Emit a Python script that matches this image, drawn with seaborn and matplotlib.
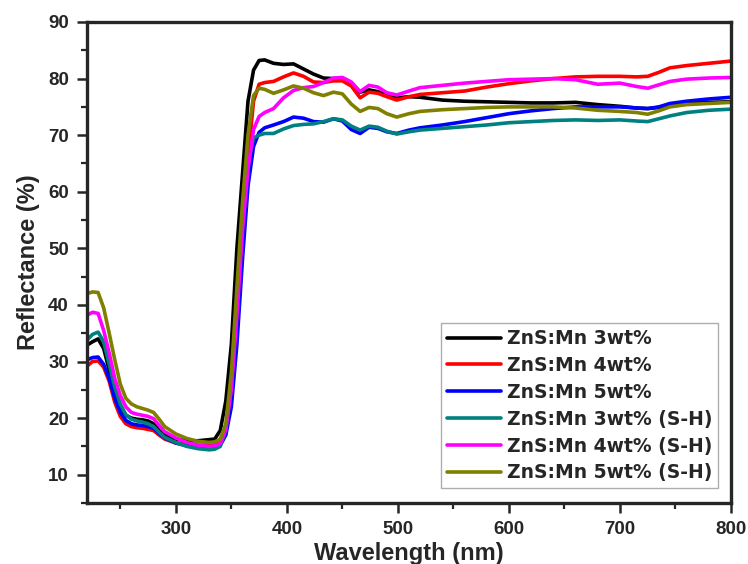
import numpy as np
import pandas as pd
import matplotlib
matplotlib.use("Agg")
import matplotlib.pyplot as plt
from matplotlib.ticker import MultipleLocator
import seaborn as sns

wavelength = [220, 225, 230, 235, 240, 245, 250, 255, 260, 265, 270, 275, 280, 285, 290,
              300, 310, 320, 330, 335, 340, 345, 350, 355, 360, 365, 370, 375, 380,
              388, 397, 406, 415, 424, 433, 442, 450, 458, 466, 474, 482, 490, 499,
              510, 520, 540, 560, 580, 600, 620, 640, 660, 680, 700, 715, 725, 735,
              745, 760, 780, 800]

zns_mn_3 = [32.9, 33.5, 34.0, 32.3, 28.5, 24.5, 22.0, 20.5, 20.0, 19.8, 19.7, 19.5, 19.0, 17.8, 17.0,
            16.3, 16.0, 16.0, 16.2, 16.3, 17.8, 23.0, 33.0, 50.0, 63.0, 76.0, 81.5, 83.2, 83.3,
            82.7, 82.5, 82.6, 81.7, 80.8, 80.1, 80.0, 79.8, 78.8, 77.6, 78.0, 77.7, 77.0, 76.6,
            76.8, 76.7, 76.2, 76.0, 75.9, 75.8, 75.7, 75.7, 75.8, 75.4, 75.1, 74.8, 74.7, 74.9,
            75.3, 75.6, 75.8, 75.9]

zns_mn_4 = [29.2, 30.0, 30.1, 29.0, 26.5, 22.8, 20.3, 19.0, 18.5, 18.3, 18.2, 18.0, 17.8, 17.0, 16.3,
            15.6, 15.3, 15.2, 15.3, 15.4, 15.6, 17.8, 24.0, 37.0, 52.0, 66.0, 76.0, 79.0, 79.3,
            79.5, 80.3, 81.0, 80.4, 79.4, 79.3, 79.6, 79.6, 78.7, 76.6, 77.6, 77.4, 76.8, 76.2,
            76.8, 77.2, 77.5, 77.8, 78.5, 79.1, 79.6, 80.0, 80.3, 80.4, 80.4, 80.3, 80.4, 81.1,
            81.9, 82.3, 82.7, 83.1]

zns_mn_5 = [30.3, 30.7, 30.8, 29.5, 27.0, 23.5, 21.0, 19.6, 19.0, 18.8, 18.7, 18.5, 18.2, 17.3, 16.5,
            15.6, 15.1, 14.9, 14.8, 14.9, 15.2, 17.0, 22.0, 33.0, 48.0, 61.0, 68.0, 70.5, 71.3,
            71.8, 72.4, 73.2, 73.0, 72.4, 72.3, 72.9, 72.5, 71.0, 70.3, 71.4, 71.2, 70.6, 70.3,
            70.9, 71.3, 71.8, 72.4, 73.1, 73.8, 74.3, 74.7, 75.0, 75.0, 75.0, 74.8, 74.7, 75.0,
            75.6, 76.0, 76.4, 76.7]

zns_mn_3_sh = [33.8, 34.8, 35.2, 33.5, 29.5, 25.5, 22.5, 20.6, 19.8, 19.5, 19.3, 19.0, 18.5, 17.5, 16.6,
               15.7, 15.0, 14.6, 14.4, 14.5, 15.0, 18.0, 26.0, 40.0, 55.0, 65.0, 69.5, 70.0, 70.3,
               70.3, 71.1, 71.7, 71.9, 72.0, 72.4, 72.9, 72.7, 71.6, 70.9, 71.6, 71.4, 70.7, 70.2,
               70.6, 70.9, 71.2, 71.5, 71.8, 72.2, 72.4, 72.6, 72.7, 72.6, 72.7, 72.5, 72.4, 72.9,
               73.4, 74.0, 74.4, 74.6]

zns_mn_4_sh = [38.2, 38.7, 38.5, 35.5, 31.5, 27.0, 24.0, 22.0, 21.0, 20.7, 20.5, 20.3, 19.9, 18.7, 17.6,
               16.5, 15.7, 15.2, 15.0, 15.1, 15.5, 18.0, 25.0, 38.0, 53.0, 64.0, 71.0, 73.3, 74.0,
               74.7, 76.6, 77.9, 78.4, 78.6, 79.3, 80.1, 80.2, 79.4, 77.7, 78.8, 78.5, 77.5, 77.1,
               77.8, 78.4, 78.8, 79.2, 79.5, 79.8, 79.9, 80.0, 79.8, 79.0, 79.2, 78.6, 78.3, 78.9,
               79.5, 79.9, 80.1, 80.2]

zns_mn_5_sh = [42.0, 42.3, 42.2, 39.5, 35.0, 30.3, 26.0, 23.5, 22.5, 22.0, 21.7, 21.4, 21.0, 19.8, 18.5,
               17.2, 16.4, 15.9, 15.7, 15.8, 16.3, 19.0, 28.0, 43.0, 58.0, 70.0, 77.0, 78.3, 78.1,
               77.4, 78.0, 78.7, 78.3, 77.5, 77.0, 77.6, 77.3, 75.5, 74.2, 74.9, 74.7, 73.8, 73.2,
               73.8, 74.2, 74.5, 74.7, 74.9, 75.0, 75.0, 75.0, 74.8, 74.4, 74.2, 74.0, 73.7, 74.3,
               75.0, 75.4, 75.6, 75.8]

labels = ["ZnS:Mn 3wt%", "ZnS:Mn 4wt%", "ZnS:Mn 5wt%",
          "ZnS:Mn 3wt% (S-H)", "ZnS:Mn 4wt% (S-H)", "ZnS:Mn 5wt% (S-H)"]
colors = ["#000000", "#ff0000", "#0000ff", "#008080", "#ff00ff", "#808000"]
series = [zns_mn_3, zns_mn_4, zns_mn_5, zns_mn_3_sh, zns_mn_4_sh, zns_mn_5_sh]

x_ticks = [300, 400, 500, 600, 700, 800]
y_ticks = [10, 20, 30, 40, 50, 60, 70, 80, 90]

frames = []
for lab, vals in zip(labels, series):
    frames.append(pd.DataFrame({"Wavelength": wavelength, "Reflectance": vals, "Sample": lab}))
df = pd.concat(frames, ignore_index=True)

sns.set_style("ticks")
plt.rcParams["font.family"] = ["Liberation Sans", "DejaVu Sans"]
plt.rcParams["font.weight"] = "bold"

fig = plt.figure(figsize=(7.48, 5.64), dpi=100)
ax = fig.add_axes([87 / 748, 1 - 503 / 564, (731 - 87) / 748, (503 - 22) / 564])

sns.lineplot(data=df, x="Wavelength", y="Reflectance", hue="Sample",
             hue_order=labels, palette=colors, estimator=None, sort=False,
             linewidth=2.6, ax=ax)

ax.set_xlim(220, 800)
ax.set_ylim(5, 90)
ax.set_xticks(x_ticks)
ax.set_yticks(y_ticks)
ax.xaxis.set_minor_locator(MultipleLocator(50))
ax.yaxis.set_minor_locator(MultipleLocator(5))
ax.tick_params(which="major", direction="out", length=7, width=1.8, labelsize=13.5, pad=6)
ax.tick_params(which="minor", direction="out", length=4, width=1.6)
for lbl in ax.get_xticklabels() + ax.get_yticklabels():
    lbl.set_fontweight("bold")
for sp in ax.spines.values():
    sp.set_linewidth(2.4)
    sp.set_visible(True)

ax.set_xlabel("Wavelength (nm)", fontsize=17, fontweight="bold", labelpad=3)
ax.set_ylabel("Reflectance (%)", fontsize=17, fontweight="bold", labelpad=6)

handles, hlabels = ax.get_legend_handles_labels()
leg = ax.legend(handles, hlabels, loc="lower right", bbox_to_anchor=(0.98, 0.031),
                borderaxespad=0, frameon=True, fancybox=False, edgecolor="#999999",
                prop={"family": ["DejaVu Sans"], "weight": "bold", "size": 13.5},
                handlelength=2.9, handletextpad=0.3, labelspacing=0.42, borderpad=0.3)
leg.get_frame().set_linewidth(1.0)
for line in leg.get_lines():
    line.set_linewidth(2.6)

fig.savefig("out.png", dpi=100)
